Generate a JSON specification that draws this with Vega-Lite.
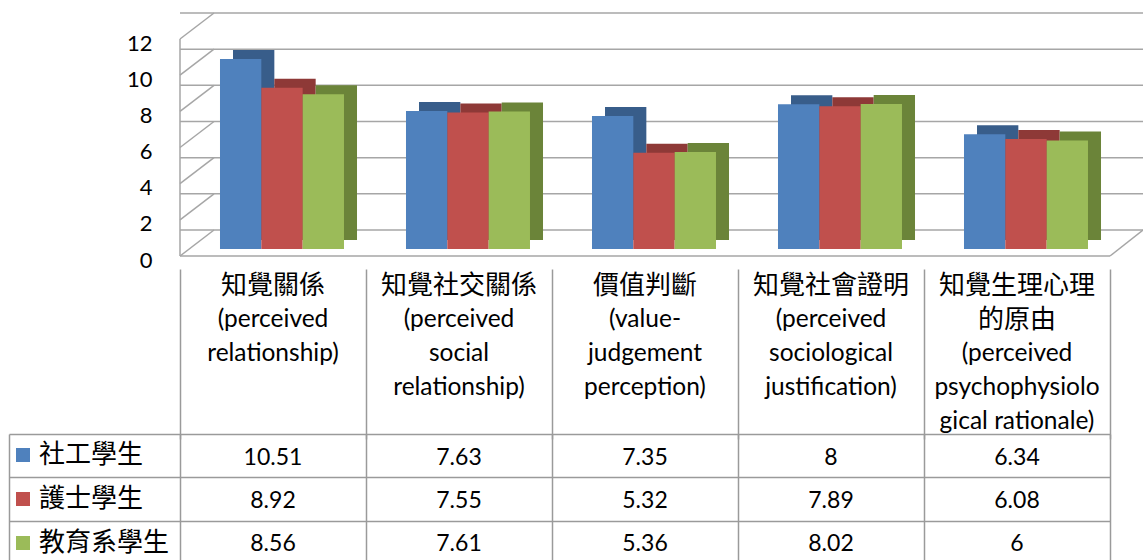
{
  "$schema": "https://vega.github.io/schema/vega-lite/v6.json",
  "padding": {"left": 8, "top": 12, "right": 0, "bottom": 0},
  "bounds": "flush",
  "spacing": 0,
  "config": {
    "view": {"stroke": null},
    "axis": {"gridColor": "#9A9A9A", "gridWidth": 1.5, "domainColor": "#9A9A9A", "tickColor": "#9A9A9A", "domainWidth": 1.5, "tickWidth": 1.5},
    "axisY": {"labelOverlap": false}
  },
  "datasets": {
    "scores": [
      {"cat": "知覺關係", "series": "社工學生", "value": 10.51},
      {"cat": "知覺關係", "series": "護士學生", "value": 8.92},
      {"cat": "知覺關係", "series": "教育系學生", "value": 8.56},
      {"cat": "知覺社交關係", "series": "社工學生", "value": 7.63},
      {"cat": "知覺社交關係", "series": "護士學生", "value": 7.55},
      {"cat": "知覺社交關係", "series": "教育系學生", "value": 7.61},
      {"cat": "價值判斷", "series": "社工學生", "value": 7.35},
      {"cat": "價值判斷", "series": "護士學生", "value": 5.32},
      {"cat": "價值判斷", "series": "教育系學生", "value": 5.36},
      {"cat": "知覺社會證明", "series": "社工學生", "value": 8},
      {"cat": "知覺社會證明", "series": "護士學生", "value": 7.89},
      {"cat": "知覺社會證明", "series": "教育系學生", "value": 8.02},
      {"cat": "知覺生理心理的原由", "series": "社工學生", "value": 6.34},
      {"cat": "知覺生理心理的原由", "series": "護士學生", "value": 6.08},
      {"cat": "知覺生理心理的原由", "series": "教育系學生", "value": 6}
    ],
    "grid": [{"v": 0}, {"v": 2}, {"v": 4}, {"v": 6}, {"v": 8}, {"v": 10}, {"v": 12}],
    "header": [
      {"cat": "知覺關係", "line": 1, "text": "知覺關係", "kind": "zh"},
      {"cat": "知覺關係", "line": 2, "text": "(perceived", "kind": "en"},
      {"cat": "知覺關係", "line": 3, "text": "relationship)", "kind": "en"},
      {"cat": "知覺社交關係", "line": 1, "text": "知覺社交關係", "kind": "zh"},
      {"cat": "知覺社交關係", "line": 2, "text": "(perceived", "kind": "en"},
      {"cat": "知覺社交關係", "line": 3, "text": "social", "kind": "en"},
      {"cat": "知覺社交關係", "line": 4, "text": "relationship)", "kind": "en"},
      {"cat": "價值判斷", "line": 1, "text": "價值判斷", "kind": "zh"},
      {"cat": "價值判斷", "line": 2, "text": "(value-", "kind": "en"},
      {"cat": "價值判斷", "line": 3, "text": "judgement", "kind": "en"},
      {"cat": "價值判斷", "line": 4, "text": "perception)", "kind": "en"},
      {"cat": "知覺社會證明", "line": 1, "text": "知覺社會證明", "kind": "zh"},
      {"cat": "知覺社會證明", "line": 2, "text": "(perceived", "kind": "en"},
      {"cat": "知覺社會證明", "line": 3, "text": "sociological", "kind": "en"},
      {"cat": "知覺社會證明", "line": 4, "text": "justification)", "kind": "en"},
      {"cat": "知覺生理心理的原由", "line": 1, "text": "知覺生理心理", "kind": "zh"},
      {"cat": "知覺生理心理的原由", "line": 2, "text": "的原由", "kind": "zh"},
      {"cat": "知覺生理心理的原由", "line": 3, "text": "(perceived", "kind": "en"},
      {"cat": "知覺生理心理的原由", "line": 4, "text": "psychophysiolo", "kind": "en"},
      {"cat": "知覺生理心理的原由", "line": 5, "text": "gical rationale)", "kind": "en"}
    ]
  },
  "vconcat": [
    {
      "width": 930,
      "height": 225,
      "resolve": {"scale": {"color": "independent", "xOffset": "independent"}},
      "layer": [
        {
          "data": {"name": "grid"},
          "mark": {"type": "rule", "color": "#A6A6A6", "strokeWidth": 1.5, "xOffset": 35, "x2Offset": 33, "yOffset": -19},
          "encoding": {
            "y": {"field": "v", "type": "quantitative", "scale": {"domain": [0, 12], "range": [217, 0]},
              "axis": {"values": [0, 2, 4, 6, 8, 10, 12], "labelOverlap": false, "title": null, "labelFont": "Lato", "labelFontSize": 22, "labelColor": "#000", "labelPadding": 28, "labelOffset": 11, "ticks": false, "domain": false, "grid": false}}
          }
        },
        {
          "data": {"name": "grid"},
          "mark": {"type": "rule", "color": "#A6A6A6", "strokeWidth": 1.5, "x2Offset": 34, "yOffset": 7, "y2Offset": -19},
          "encoding": {
            "x": {"datum": "知覺關係", "type": "nominal", "bandPosition": 0, "scale": {"type": "band", "domain": ["知覺關係", "知覺社交關係", "價值判斷", "知覺社會證明", "知覺生理心理的原由"], "paddingInner": 0, "paddingOuter": 0}, "axis": null},
            "x2": {"datum": "知覺關係", "bandPosition": 0},
            "y": {"field": "v", "type": "quantitative",
              "axis": {"values": [0, 2, 4, 6, 8, 10, 12], "labelOverlap": false, "title": null, "labelFont": "Lato", "labelFontSize": 22, "labelColor": "#000", "labelPadding": 28, "labelOffset": 11, "ticks": false, "domain": false, "grid": false}},
            "y2": {"field": "v"}
          }
        },
        {
          "data": {"name": "grid"},
          "transform": [{"filter": "datum.v == 0"}],
          "mark": {"type": "rule", "color": "#A6A6A6", "strokeWidth": 1.5, "yOffset": 7, "y2Offset": 7},
          "encoding": {
            "x": {"datum": "知覺關係", "type": "nominal", "bandPosition": 0, "axis": null},
            "y": {"datum": 0, "type": "quantitative",
              "axis": {"values": [0, 2, 4, 6, 8, 10, 12], "labelOverlap": false, "title": null, "labelFont": "Lato", "labelFontSize": 22, "labelColor": "#000", "labelPadding": 28, "labelOffset": 11, "ticks": false, "domain": false, "grid": false}},
            "y2": {"datum": 12}
          }
        },
        {
          "data": {"name": "grid"},
          "transform": [{"filter": "datum.v == 0"}],
          "mark": {"type": "rule", "color": "#A6A6A6", "strokeWidth": 1.5, "yOffset": 7},
          "encoding": {
            "y": {"datum": 0, "type": "quantitative",
              "axis": {"values": [0, 2, 4, 6, 8, 10, 12], "labelOverlap": false, "title": null, "labelFont": "Lato", "labelFontSize": 22, "labelColor": "#000", "labelPadding": 28, "labelOffset": 11, "ticks": false, "domain": false, "grid": false}}
          }
        },
        {
          "data": {"name": "grid"},
          "transform": [{"filter": "datum.v == 0"}],
          "mark": {"type": "rule", "color": "#A6A6A6", "strokeWidth": 1.5, "x2Offset": 33, "yOffset": 7, "y2Offset": -19},
          "encoding": {
            "x": {"datum": "知覺生理心理的原由", "type": "nominal", "bandPosition": 1, "axis": null},
            "x2": {"datum": "知覺生理心理的原由", "bandPosition": 1},
            "y": {"datum": 0, "type": "quantitative",
              "axis": {"values": [0, 2, 4, 6, 8, 10, 12], "labelOverlap": false, "title": null, "labelFont": "Lato", "labelFontSize": 22, "labelColor": "#000", "labelPadding": 28, "labelOffset": 11, "ticks": false, "domain": false, "grid": false}},
            "y2": {"datum": 0}
          }
        },
        {
          "data": {"name": "scores"},
          "mark": {"type": "bar", "yOffset": -9, "y2Offset": -9},
          "encoding": {
            "x": {"field": "cat", "type": "nominal", "axis": null},
            "xOffset": {"field": "series", "type": "nominal", "scale": {"domain": ["社工學生", "護士學生", "教育系學生"], "paddingInner": 0, "paddingOuter": 0.75, "align": 0.855}},
            "y": {"field": "value", "type": "quantitative",
              "axis": {"values": [0, 2, 4, 6, 8, 10, 12], "labelOverlap": false, "title": null, "labelFont": "Lato", "labelFontSize": 22, "labelColor": "#000", "labelPadding": 28, "labelOffset": 11, "ticks": false, "domain": false, "grid": false}},
            "color": {"field": "series", "type": "nominal", "scale": {"domain": ["社工學生", "護士學生", "教育系學生"], "range": ["#385D8A", "#8E3937", "#6B8439"]}, "legend": null}
          }
        },
        {
          "data": {"name": "scores"},
          "mark": {"type": "bar"},
          "encoding": {
            "x": {"field": "cat", "type": "nominal", "axis": null},
            "xOffset": {"field": "series", "type": "nominal", "scale": {"domain": ["社工學生", "護士學生", "教育系學生"], "paddingInner": 0, "paddingOuter": 0.75, "align": 0.645}},
            "y": {"field": "value", "type": "quantitative",
              "axis": {"values": [0, 2, 4, 6, 8, 10, 12], "labelOverlap": false, "title": null, "labelFont": "Lato", "labelFontSize": 22, "labelColor": "#000", "labelPadding": 28, "labelOffset": 11, "ticks": false, "domain": false, "grid": false}},
            "color": {"field": "series", "type": "nominal", "scale": {"domain": ["社工學生", "護士學生", "教育系學生"], "range": ["#4F81BD", "#C0504D", "#9BBB59"]},
              "legend": {"orient": "none", "legendX": -170, "legendY": 410, "direction": "vertical", "symbolType": "square", "symbolSize": 196, "symbolStrokeWidth": 0, "symbolOpacity": 1, "labelFontSize": 26, "labelFont": "Noto Sans CJK TC", "labelColor": "#000", "labelOffset": 3, "rowPadding": 18, "padding": 0, "title": null}}
          }
        }
      ]
    },
    {
      "width": 930,
      "height": 177,
      "data": {"name": "header"},
      "mark": {"type": "text", "font": "Lato, Noto Sans CJK TC", "color": "#000", "baseline": "middle"},
      "encoding": {
        "x": {"field": "cat", "type": "nominal", "scale": {"type": "band", "domain": ["知覺關係", "知覺社交關係", "價值判斷", "知覺社會證明", "知覺生理心理的原由"], "paddingInner": 0, "paddingOuter": 0},
          "axis": {"orient": "top", "grid": true, "tickBand": "extent", "labels": false, "ticks": false, "domain": false, "title": null}},
        "y": {"field": "line", "type": "ordinal", "scale": {"domain": [1, 2, 3, 4, 5], "range": [12, 182]}, "axis": null},
        "text": {"field": "text"},
        "size": {"field": "kind", "type": "ordinal", "scale": {"domain": ["zh", "en"], "range": [26, 24.5]}, "legend": null}
      }
    },
    {
      "width": 930,
      "height": 130,
      "data": {"name": "scores"},
      "mark": {"type": "text", "font": "Lato", "fontSize": 23, "color": "#000", "dy": 2},
      "encoding": {
        "x": {"field": "cat", "type": "nominal", "scale": {"type": "band", "domain": ["知覺關係", "知覺社交關係", "價值判斷", "知覺社會證明", "知覺生理心理的原由"], "paddingInner": 0, "paddingOuter": 0},
          "axis": {"orient": "top", "grid": true, "tickBand": "extent", "labels": false, "ticks": false, "domain": false, "title": null}},
        "y": {"field": "series", "type": "nominal", "scale": {"type": "band", "domain": ["社工學生", "護士學生", "教育系學生"], "paddingInner": 0, "paddingOuter": 0},
          "axis": {"grid": true, "tickBand": "extent", "labels": false, "ticks": true, "tickSize": -171, "offset": 171, "domain": true, "title": null}},
        "text": {"field": "value", "type": "nominal"}
      }
    }
  ]
}
